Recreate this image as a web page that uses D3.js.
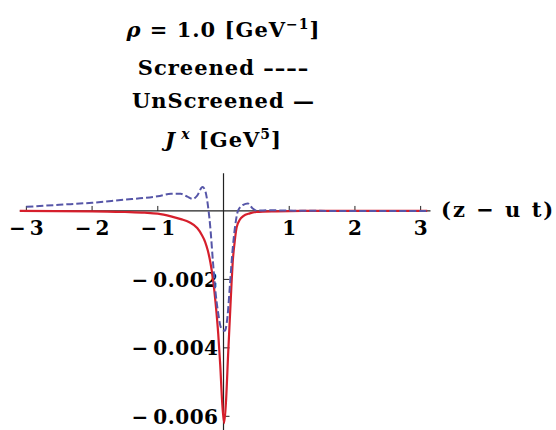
<!DOCTYPE html>
<html><head><meta charset="utf-8">
<script src="https://cdn.jsdelivr.net/npm/d3@7"></script>
<style>body{margin:0;background:#fff}svg{display:block}</style>
</head><body>
<script>
// Data
const screenedX = [-3.0,-2.5,-2.0,-1.5,-1.2,-1.0,-0.8,-0.65,-0.55,-0.47,-0.4,-0.32,-0.28,-0.24,-0.2,-0.16,-0.12,-0.08,-0.04,0.02,0.06,0.1,0.14,0.18,0.22,0.3,0.37,0.44,0.5,0.7,1.0,2.0,3.1];
const screenedY = [0.00012,0.00018,0.00024,0.00033,0.00038,0.00043,0.0005,0.0005,0.00042,0.00035,0.00045,0.0007,0.0006,0.0002,-0.0005,-0.0015,-0.0024,-0.003,-0.0034,-0.0035,-0.0031,-0.0021,-0.0011,-0.0004,0.0,0.00018,0.00022,0.00008,0.00001,0.00002,0.00001,0.0,0.0];
const unscreenedX = [-3.1,-2.0,-1.5,-1.2,-1.0,-0.8,-0.65,-0.52,-0.4,-0.33,-0.28,-0.24,-0.2,-0.16,-0.12,-0.08,-0.05,-0.02,0.01,0.04,0.07,0.1,0.12,0.14,0.17,0.2,0.25,0.3,0.4,0.5,0.8,1.2,3.1];
const unscreenedY = [0,-0.00001,-0.00003,-0.00005,-0.00008,-0.00016,-0.00024,-0.00033,-0.0005,-0.0007,-0.0009,-0.00115,-0.0015,-0.002,-0.0027,-0.0036,-0.0045,-0.0056,-0.0062,-0.0055,-0.0042,-0.003,-0.0022,-0.0015,-0.0009,-0.00048,-0.00025,-0.00015,-0.00007,-0.00003,-0.00001,0,0];
const xTicks = [-3,-2,-1,1,2,3];
const xTickLabels = ["\u2212\u20093","\u2212\u20092","\u2212\u20091","1","2","3"];
const yTicks = [-0.002,-0.004,-0.006];
const yTickLabels = ["\u2212\u20090.002","\u2212\u20090.004","\u2212\u20090.006"];

const W = 556, H = 430;
const svg = d3.select("body").append("svg").attr("width", W).attr("height", H);
const x = d3.scaleLinear().domain([-3.1, 3.15]).range([19.8, 430.5]);
const y = d3.scaleLinear().domain([0.0011, -0.0064]).range([173.3, 430]);
const font = "'DejaVu Serif', serif";

// axes
const g = svg.append("g");
g.append("line").attr("x1", x(-3.1)).attr("x2", x(3.15)).attr("y1", y(0)).attr("y2", y(0)).attr("stroke", "#222").attr("stroke-width", 1.2);
g.append("line").attr("x1", x(0)).attr("x2", x(0)).attr("y1", y(0.0011)).attr("y2", H).attr("stroke", "#222").attr("stroke-width", 1.2);
xTicks.forEach((t, i) => {
  g.append("line").attr("x1", x(t)).attr("x2", x(t)).attr("y1", y(0)).attr("y2", y(0) - 5).attr("stroke", "#222");
  g.append("text").attr("x", x(t)).attr("y", y(0) + 24).attr("text-anchor", "middle")
    .attr("font-family", font).attr("font-weight", "bold").attr("font-size", 20).text(xTickLabels[i]);
});
yTicks.forEach((t, i) => {
  g.append("line").attr("x1", x(0)).attr("x2", x(0) + 6).attr("y1", y(t)).attr("y2", y(t)).attr("stroke", "#222");
  g.append("text").attr("x", x(0) - 5).attr("y", y(t)).attr("dy", "0.36em").attr("text-anchor", "end")
    .attr("font-family", font).attr("font-weight", "bold").attr("font-size", 20).attr("letter-spacing", 0.5).text(yTickLabels[i]);
});

// curves
const line = d3.line().x(d => x(d[0])).y(d => y(d[1])).curve(d3.curveMonotoneX);
svg.append("path").datum(unscreenedX.map((v, i) => [v, unscreenedY[i]]))
  .attr("d", line).attr("fill", "none").attr("stroke", "#d61f2c").attr("stroke-width", 2.2);
svg.append("path").datum(screenedX.map((v, i) => [v, screenedY[i]]))
  .attr("d", line).attr("fill", "none").attr("stroke", "#5656a8").attr("stroke-width", 2).attr("stroke-dasharray", "7,3");

// titles
const cx = x(0);
function title(yPos, parts) {
  const t = svg.append("text").attr("x", cx).attr("y", yPos).attr("text-anchor", "middle")
    .attr("font-family", font).attr("font-weight", "bold").attr("font-size", 21).attr("letter-spacing", 1);
  parts.forEach(p => {
    const s = t.append("tspan").text(p.t);
    if (p.i) s.attr("font-style", "italic");
    if (p.sup) s.attr("baseline-shift", "super").attr("font-size", 14);
  });
}
title(37, [{t: "\u03c1", i: 1}, {t: " = 1.0 [GeV"}, {t: "\u22121", sup: 1}, {t: "]"}]);
title(75, [{t: "Screened \u2013\u2013\u2013\u2013"}]);
title(108, [{t: "UnScreened \u2014"}]);
title(147, [{t: "J\u2009", i: 1}, {t: "x", i: 1, sup: 1}, {t: " [GeV"}, {t: "5", sup: 1}, {t: "]"}]);
svg.append("text").attr("x", 441).attr("y", 217).attr("font-family", font).attr("font-weight", "bold")
  .attr("font-size", 21).attr("letter-spacing", 2).text("(z \u2212 u t)");
</script>
</body></html>
